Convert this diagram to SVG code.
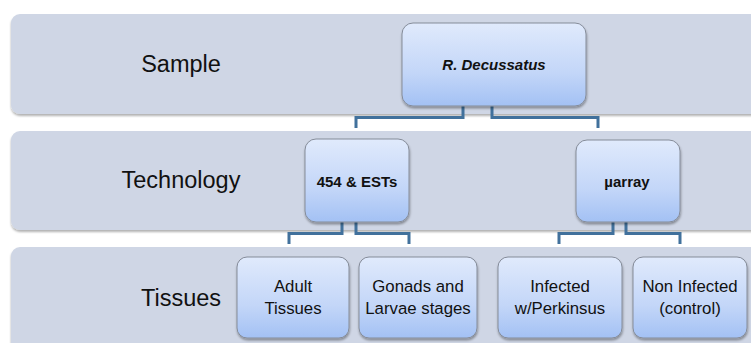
<svg xmlns="http://www.w3.org/2000/svg" width="751" height="343" viewBox="0 0 751 343">
<defs>
<linearGradient id="ng" x1="0" y1="0" x2="0" y2="1">
<stop offset="0" stop-color="#e0eafc"/>
<stop offset="0.6" stop-color="#c3d6f8"/>
<stop offset="1" stop-color="#a3c1f4"/>
</linearGradient>
<filter id="sh" x="-10%" y="-10%" width="125%" height="130%">
<feDropShadow dx="0.5" dy="2" stdDeviation="1.3" flood-color="#000" flood-opacity="0.35"/>
</filter>
<filter id="bsh" x="-5%" y="-10%" width="110%" height="130%">
<feDropShadow dx="0" dy="2" stdDeviation="1" flood-color="#000" flood-opacity="0.3"/>
</filter>
<style>
.band{fill:#cfd6e5;filter:url(#bsh)}
.node{fill:url(#ng);stroke:#858c99;stroke-width:1;filter:url(#sh)}
.lbl{font-family:"Liberation Sans",Arial,sans-serif;font-size:23.5px;fill:#111;text-anchor:middle}
.nt{font-family:"Liberation Sans",Arial,sans-serif;font-size:15px;font-weight:bold;fill:#111;text-anchor:middle}
.tt{font-family:"Liberation Sans",Arial,sans-serif;font-size:16.8px;fill:#111;text-anchor:middle}
.con{fill:none;stroke:#41719c;stroke-width:3}
</style>
</defs>
<rect width="751" height="343" fill="#ffffff"/>
<g id="bands">
<rect class="band" x="11" y="14" width="760" height="100" rx="9"/>
<rect class="band" x="11" y="131" width="760" height="99" rx="9"/>
<rect class="band" x="11" y="247" width="760" height="110" rx="9"/>
</g>
<g id="labels">
<text class="lbl" x="181" y="72">Sample</text>
<text class="lbl" x="181" y="188">Technology</text>
<text class="lbl" x="181" y="306">Tissues</text>
</g>
<g id="connectors">
<path class="con" d="M463,106 V117.5 H356 V128"/>
<path class="con" d="M492,106 V117.5 H598 V128"/>
<path class="con" d="M342,222 V233.5 H289 V244"/>
<path class="con" d="M356,222 V233.5 H409 V244"/>
<path class="con" d="M613,222 V233.5 H559 V244"/>
<path class="con" d="M626,222 V233.5 H680 V244"/>
</g>
<g id="node-sample">
<rect class="node" x="402" y="23" width="184" height="83" rx="11"/>
<text class="nt" x="494" y="70" font-style="italic">R. Decussatus</text>
</g>
<g id="node-454">
<rect class="node" x="305" y="139" width="104" height="83" rx="11"/>
<text class="nt" x="357" y="187">454 &amp; ESTs</text>
</g>
<g id="node-array">
<rect class="node" x="576" y="140" width="104" height="82" rx="11"/>
<text class="nt" x="627" y="187">µarray</text>
</g>
<g id="node-adult">
<rect class="node" x="237" y="257" width="112" height="81" rx="10"/>
<text class="tt" x="293" y="292">Adult</text>
<text class="tt" x="293" y="314">Tissues</text>
</g>
<g id="node-gonads">
<rect class="node" x="359" y="257" width="118" height="81" rx="10"/>
<text class="tt" x="418" y="292">Gonads and</text>
<text class="tt" x="418" y="314">Larvae stages</text>
</g>
<g id="node-infected">
<rect class="node" x="498" y="257" width="124" height="81" rx="10"/>
<text class="tt" x="560" y="292">Infected</text>
<text class="tt" x="560" y="314">w/Perkinsus</text>
</g>
<g id="node-noninfected">
<rect class="node" x="633" y="257" width="114" height="81" rx="10"/>
<text class="tt" x="690" y="292">Non Infected</text>
<text class="tt" x="690" y="314">(control)</text>
</g>
</svg>
